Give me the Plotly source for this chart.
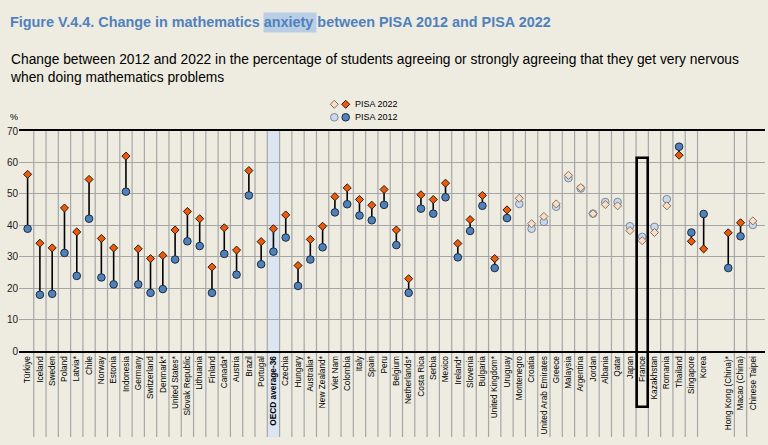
import plotly.graph_objects as go

# ---------------- data ----------------
countries = [
    "Türkiye", "Iceland", "Sweden", "Poland", "Latvia*", "Chile", "Norway", "Estonia",
    "Indonesia", "Germany", "Switzerland", "Denmark*", "United States*", "Slovak Republic",
    "Lithuania", "Finland", "Canada*", "Austria", "Brazil", "Portugal", "OECD average-36",
    "Czechia", "Hungary", "Australia*", "New Zealand*", "Viet Nam", "Colombia", "Italy",
    "Spain", "Peru", "Belgium", "Netherlands*", "Costa Rica", "Serbia", "Mexico", "Ireland*",
    "Slovenia", "Bulgaria", "United Kingdom*", "Uruguay", "Montenegro", "Croatia",
    "United Arab Emirates", "Greece", "Malaysia", "Argentina", "Jordan", "Albania", "Qatar",
    "Japan", "France", "Kazakhstan", "Romania", "Thailand", "Singapore", "Korea", "",
    "Hong Kong (China)*", "Macao (China)", "Chinese Taipei",
]
pisa_2022 = [
    56.2, 34.3, 32.8, 45.5, 37.9, 54.6, 35.8, 32.8,
    62.0, 32.5, 29.4, 30.4, 38.5, 44.4,
    42.1, 26.7, 39.2, 32.1, 57.4, 34.8, 38.9,
    43.3, 27.2, 35.5, 39.7, 49.1, 51.9, 48.2,
    46.4, 51.4, 38.5, 23.0, 49.7, 48.2, 53.4, 34.2,
    41.8, 49.5, 29.4, 44.9, 48.6, 40.5,
    42.8, 46.8, 55.9, 52.0, 43.7, 46.6, 46.2,
    38.3, 35.1, 37.7, 46.2, 62.3, 34.9, 32.5, None,
    37.6, 40.8, 41.4,
]
pisa_2012 = [
    38.9, 17.9, 18.2, 31.2, 23.9, 42.1, 23.4, 21.2,
    50.7, 21.2, 18.5, 19.7, 29.1, 34.9,
    33.4, 18.5, 30.9, 24.3, 49.5, 27.6, 31.6,
    36.1, 20.7, 29.1, 33.0, 44.1, 46.7, 43.1,
    41.6, 46.5, 33.7, 18.5, 45.3, 43.7, 48.9, 29.8,
    38.2, 46.2, 26.4, 42.3, 46.8, 38.9,
    41.1, 45.9, 55.0, 51.7, 43.7, 47.4, 47.4,
    39.7, 36.3, 39.5, 48.3, 65.0, 37.7, 43.6, None,
    26.4, 36.5, 40.1,
]
# 1 = change is statistically significant (dark markers + connecting line)
significant = [1] * 40 + [0] * 13 + [1, 1, 1, 0, 1, 1, 0]
legend_labels = ["PISA 2022", "PISA 2012"]

# ---------------- styling ----------------
BG = "#EEECE1"
ORANGE = "#EE5A0A"
ORANGE_LIGHT = "#FBDCC4"
BLUE = "#4F81BD"
BLUE_LIGHT = "#C9D9EE"
GRID = "#A6A6A6"
ORANGE_EDGE = "#2A1A10"
ORANGE_LIGHT_EDGE = "#7F7266"
BLUE_EDGE = "#1E2A3A"
BLUE_LIGHT_EDGE = "#7A8696"

L, R, T, B = 19, 3, 131, 94
W, H = 768, 445
plot_w = W - L - R
plot_h = H - T - B


def px(xp):
    return (xp - L) / plot_w


def py(yp):
    return (H - B - yp) / plot_h


x = list(range(len(countries)))
ticktext = [("<b>%s</b>" % c if c.startswith("OECD") else c) for c in countries]

sx = [i for i in x if significant[i] and pisa_2022[i] is not None]
nx = [i for i in x if not significant[i] and pisa_2022[i] is not None]

lx, ly = [], []
for i in sx:
    lx += [i, i, None]
    ly += [pisa_2012[i], pisa_2022[i], None]

D_SIZE, C_SIZE = 6.2, 7.6

fig = go.Figure()
fig.add_trace(go.Scatter(x=lx, y=ly, mode="lines", line=dict(color="black", width=1.6),
                         showlegend=False, hoverinfo="skip"))
fig.add_trace(go.Scatter(x=nx, y=[pisa_2012[i] for i in nx], mode="markers", showlegend=False,
                         marker=dict(symbol="circle", size=C_SIZE, color=BLUE_LIGHT,
                                     line=dict(color=BLUE_LIGHT_EDGE, width=1))))
fig.add_trace(go.Scatter(x=sx, y=[pisa_2012[i] for i in sx], mode="markers", showlegend=False,
                         marker=dict(symbol="circle", size=C_SIZE, color=BLUE,
                                     line=dict(color=BLUE_EDGE, width=1))))
fig.add_trace(go.Scatter(x=nx, y=[pisa_2022[i] for i in nx], mode="markers", showlegend=False,
                         marker=dict(symbol="diamond", size=D_SIZE, color=ORANGE_LIGHT,
                                     line=dict(color=ORANGE_LIGHT_EDGE, width=1))))
fig.add_trace(go.Scatter(x=sx, y=[pisa_2022[i] for i in sx], mode="markers", showlegend=False,
                         marker=dict(symbol="diamond", size=D_SIZE, color=ORANGE,
                                     line=dict(color=ORANGE_EDGE, width=1))))

shapes = []
# OECD average highlight column
shapes.append(dict(type="rect", xref="x", yref="paper", x0=19.5, x1=20.5,
                   y0=py(437), y1=1, fillcolor="#DCE6F2", line=dict(width=0),
                   layer="below"))
# vertical separators
for k in range(len(countries) - 1):
    if k in (55, 56):
        continue
    shapes.append(dict(type="line", xref="x", yref="paper", x0=k + 0.5, x1=k + 0.5,
                       y0=py(437), y1=1, line=dict(color=GRID, width=1.2),
                       layer="below"))
# highlight box around France
shapes.append(dict(type="rect", xref="x", yref="paper", x0=49.55, x1=50.45,
                   y0=py(406.7), y1=py(157.7), line=dict(color="black", width=2.6),
                   fillcolor="rgba(0,0,0,0)", layer="above"))
# text highlight behind "anxiety"
shapes.append(dict(type="rect", xref="paper", yref="paper", x0=px(263.5), x1=px(316.5),
                   y0=py(32.5), y1=py(12.5), fillcolor="#B9CDE5", line=dict(width=0),
                   layer="below"))


# legend markers (pixel-sized shapes)
def diamond(cx, cy, r, fill, edge):
    path = "M %f %f L %f %f L %f %f L %f %f Z" % (
        px(cx), py(cy - r), px(cx + r), py(cy), px(cx), py(cy + r), px(cx - r), py(cy))
    return dict(type="path", xref="paper", yref="paper", path=path, fillcolor=fill,
                line=dict(color=edge, width=1), layer="above")


def circle(cx, cy, r, fill, edge):
    return dict(type="circle", xref="paper", yref="paper", x0=px(cx - r), x1=px(cx + r),
                y0=py(cy + r), y1=py(cy - r), fillcolor=fill,
                line=dict(color=edge, width=1), layer="above")


shapes.append(diamond(334.3, 104.3, 4.0, ORANGE_LIGHT, ORANGE_LIGHT_EDGE))
shapes.append(diamond(345.7, 104.3, 4.0, ORANGE, ORANGE_EDGE))
shapes.append(circle(334.3, 117.3, 3.8, BLUE_LIGHT, BLUE_LIGHT_EDGE))
shapes.append(circle(345.7, 117.3, 3.8, BLUE, BLUE_EDGE))

annotations = [
    dict(xref="paper", yref="paper", x=px(8), y=py(22), xanchor="left", yanchor="middle",
         showarrow=False,
         text="<b>Figure V.4.4. Change in mathematics anxiety between PISA 2012 and PISA 2022</b>",
         font=dict(family="Arial", size=14.4, color="#4F81BD")),
    dict(xref="paper", yref="paper", x=px(8), y=py(68), xanchor="left", yanchor="middle",
         showarrow=False, align="left",
         text="Change between 2012 and 2022 in the percentage of students agreeing or strongly agreeing that they get very nervous<br>when doing mathematics problems",
         font=dict(family="Arial", size=13.8, color="black")),
    dict(xref="paper", yref="paper", x=px(353), y=py(104.3), xanchor="left", yanchor="middle",
         showarrow=False, text=legend_labels[0],
         font=dict(family="Arial", size=9, color="black")),
    dict(xref="paper", yref="paper", x=px(353), y=py(117.3), xanchor="left", yanchor="middle",
         showarrow=False, text=legend_labels[1],
         font=dict(family="Arial", size=9, color="black")),
    dict(xref="paper", yref="paper", x=px(13.5), y=py(117), xanchor="center", yanchor="middle",
         showarrow=False, text="%", font=dict(family="Arial", size=9, color="black")),
]

fig.update_layout(
    width=W, height=H,
    margin=dict(l=L, r=R, t=T, b=B, pad=0),
    paper_bgcolor=BG, plot_bgcolor=BG,
    showlegend=False,
    font=dict(family="Arial", color="black"),
    shapes=shapes, annotations=annotations,
    xaxis=dict(range=[-0.70, 59.99], tickmode="array", tickvals=x, ticktext=ticktext,
               tickangle=-90, tickfont=dict(family="Arial", size=8.3, color="black"),
               showgrid=False, zeroline=False, showline=True, mirror=True,
               linecolor="black", linewidth=1.5, ticks="", automargin=False, fixedrange=True),
    yaxis=dict(range=[0, 70], tickmode="array", tickvals=list(range(0, 71, 10)),
               tickfont=dict(family="Arial", size=10, color="#1a1a1a"),
               showgrid=True, gridcolor=GRID, gridwidth=1.2, zeroline=False, showline=False,
               ticks="", automargin=False, fixedrange=True),
)

fig.write_html("out.html")
